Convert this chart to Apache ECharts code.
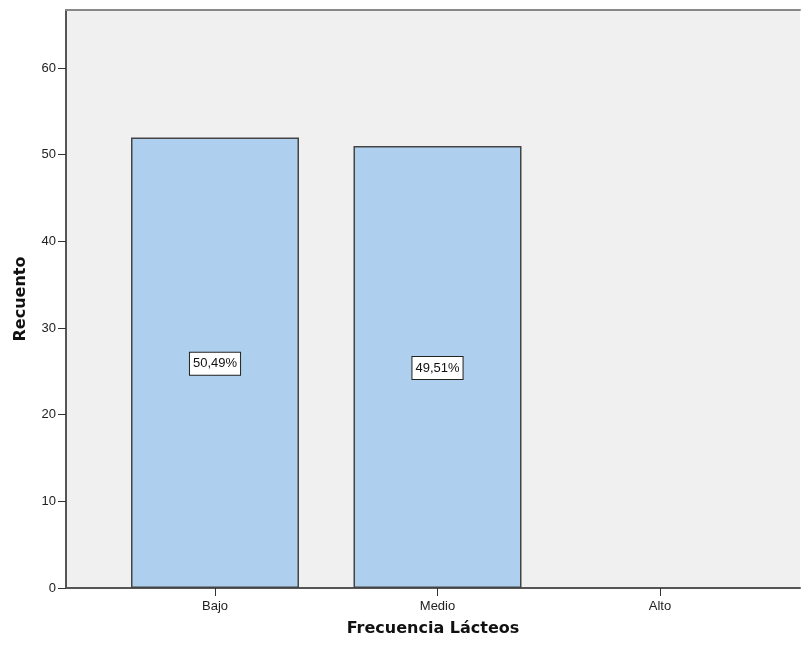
<!DOCTYPE html>
<html>
<head>
<meta charset="utf-8">
<script src="https://cdn.jsdelivr.net/npm/echarts@6/dist/echarts.min.js"></script>
<style>html,body{margin:0;padding:0;background:#fff}#c{width:801px;height:650px}</style>
</head>
<body>
<div id="c"></div>
<script>
const categories = ['Bajo', 'Medio', 'Alto'];
const counts = [52, 51, 0];
const percentLabels = ['50,49%', '49,51%', ''];
const yTicks = [0, 10, 20, 30, 40, 50, 60];
const xPositions = [1, 2, 3];

const chart = echarts.init(document.getElementById('c'), null, {renderer: 'canvas'});
const barData = categories.map((c, i) => {
  const item = {value: [xPositions[i], counts[i]], name: c, pct: percentLabels[i]};
  if (!counts[i]) {
    item.itemStyle = {opacity: 0};
    item.label = {show: false};
  }
  return item;
});

chart.setOption({
  animation: false,
  backgroundColor: '#ffffff',
  grid: {left: 66, right: 1, top: 10, bottom: 62, show: true, backgroundColor: '#f0f0f0', borderWidth: 0},
  xAxis: [{
    type: 'value', min: 0.3303, max: 3.6292,
    name: 'Frecuencia Lácteos', nameLocation: 'middle', nameGap: 33,
    nameTextStyle: {fontFamily: 'DejaVu Sans', fontWeight: 'bold', fontSize: 16, color: '#111'},
    axisLine: {show: true, lineStyle: {color: '#555', width: 2}},
    axisTick: {show: true, length: 8, customValues: xPositions, lineStyle: {color: '#333', width: 1}},
    axisLabel: {customValues: xPositions, margin: 12, fontFamily: 'Liberation Sans, Arial', fontSize: 13, color: '#222',
      formatter: v => categories[xPositions.indexOf(Math.round(v))] || ''},
    splitLine: {show: false}
  }, {
    type: 'value', position: 'top', min: 0, max: 1,
    axisLine: {show: true, onZero: false, lineStyle: {color: '#888', width: 2}},
    axisTick: {show: false}, axisLabel: {show: false}, splitLine: {show: false}
  }],
  yAxis: {
    type: 'value', min: 0, max: 66.7,
    name: 'Recuento', nameLocation: 'middle', nameGap: 37, nameRotate: 90,
    nameTextStyle: {fontFamily: 'DejaVu Sans', fontWeight: 'bold', fontSize: 16, color: '#111'},
    axisLine: {show: true, onZero: false, lineStyle: {color: '#555', width: 2}},
    axisTick: {show: true, length: 8, customValues: yTicks, lineStyle: {color: '#333', width: 1}},
    axisLabel: {customValues: yTicks, margin: 10, fontFamily: 'Liberation Sans, Arial', fontSize: 13, color: '#222'},
    splitLine: {show: false}
  },
  series: [{
    type: 'bar', xAxisIndex: 0, yAxisIndex: 0,
    barWidth: 168,
    data: barData,
    itemStyle: {color: '#aed0ee', borderColor: '#444', borderWidth: 1.5},
    label: {
      show: true, position: 'inside',
      formatter: p => p.data.pct,
      fontFamily: 'Liberation Sans, Arial', fontSize: 13, color: '#111',
      backgroundColor: '#ffffff', borderColor: '#222', borderWidth: 1, padding: [5, 3, 4, 3], offset: [0, 1]
    }
  }]
});
</script>
</body>
</html>
